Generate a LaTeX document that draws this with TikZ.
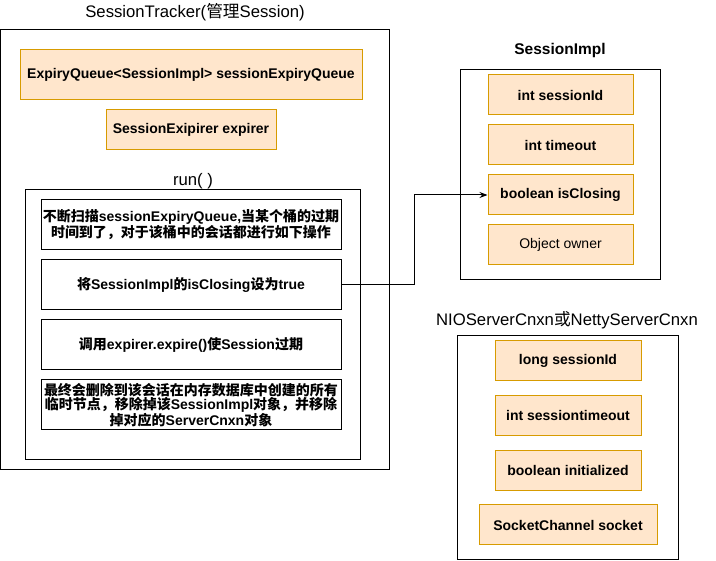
\documentclass[tikz,border=0pt]{standalone}
\usepackage{fontspec}
\setmainfont{Liberation Sans}
\newfontfamily\cjk{Noto Sans CJK SC}
\usetikzlibrary{arrows.meta}
\definecolor{ofill}{HTML}{FFE6CC}
\definecolor{odraw}{HTML}{D79B00}
\newcommand\zh[1]{{\cjk #1}}
\begin{document}
\begin{tikzpicture}[x=1pt,y=-1pt,
  field/.style={draw=odraw, fill=ofill, line width=1pt, inner sep=0pt, align=center, font=\bfseries\fontsize{14}{16}\selectfont},
  plain/.style={draw=odraw, fill=ofill, line width=1pt, inner sep=0pt, align=center, font=\fontsize{14}{16}\selectfont},
  frame/.style={draw=black, line width=1pt, inner sep=0pt},
  step box/.style={draw=black, line width=1pt, inner sep=0pt, align=center, font=\bfseries\fontsize{14}{14.5}\selectfont},
  title/.style={font=\fontsize{16.7}{18}\selectfont, inner sep=0pt},
  conn/.style={draw=black, line width=1pt, -{Stealth[length=8pt,width=6pt]}}]
\useasboundingbox (0,0) rectangle (716,561);
% SessionTracker
\node[frame, minimum width=389pt, minimum height=440pt] (tracker) at (195,250) {};
\node[title] (trackerT) at (195,12) {SessionTracker(\zh{管理}Session)};
\node[field, minimum width=342pt, minimum height=50pt] (eq) at (191,75) {ExpiryQueue<SessionImpl> sessionExpiryQueue};
\node[field, minimum width=170pt, minimum height=40pt] (exp) at (191,130) {SessionExipirer expirer};
\node[title] (runT) at (193,181) {run( )};
\node[frame, minimum width=335pt, minimum height=270pt] (run) at (192.5,325) {};
\node[step box, minimum width=300pt, minimum height=50pt] (b1) at (191,225) {\zh{不断扫描}sessionExpiryQueue,\zh{当某个桶的过期}\\\zh{时间到了，对于该桶中的会话都进行如下操作}};
\node[step box, minimum width=300pt, minimum height=50pt] (b2) at (191,285) {\zh{将}SessionImpl\zh{的}isClosing\zh{设为}true};
\node[step box, minimum width=300pt, minimum height=50pt] (b3) at (191,345) {\zh{调用}expirer.expire()\zh{使}Session\zh{过期}};
\node[step box, minimum width=300pt, minimum height=50pt] (b4) at (191,405) {\zh{最终会删除到该会话在内存数据库中创建的所有}\\\zh{临时节点，移除掉该}SessionImpl\zh{对象，并移除}\\\zh{掉对应的}ServerCnxn\zh{对象}};
% SessionImpl
\node[title, font=\bfseries\fontsize{15.5}{18}\selectfont] (implT) at (560,50) {SessionImpl};
\node[frame, minimum width=200pt, minimum height=210pt] (impl) at (560,175) {};
\node[field, minimum width=145pt, minimum height=40pt] (f1) at (560.5,95) {int sessionId};
\node[field, minimum width=145pt, minimum height=40pt] (f2) at (560.5,145) {int timeout};
\node[field, minimum width=145pt, minimum height=40pt] (f3) at (560.5,195) {boolean isClosing};
\node[plain, minimum width=145pt, minimum height=40pt] (f4) at (560.5,245) {Object owner};
% NIOServerCnxn
\node[title] (nioT) at (567,320) {NIOServerCnxn\zh{或}NettyServerCnxn};
\node[frame, minimum width=221pt, minimum height=224pt] (nio) at (567.5,447.5) {};
\node[field, minimum width=146pt, minimum height=40pt] (g1) at (568,360.5) {long sessionId};
\node[field, minimum width=146pt, minimum height=40pt] (g2) at (568,415.5) {int sessiontimeout};
\node[field, minimum width=146pt, minimum height=40pt] (g3) at (568,470.5) {boolean initialized};
\node[field, minimum width=178pt, minimum height=40pt] (g4) at (568,525) {SocketChannel socket};
% connector
\coordinate (bend) at (414,285);
\draw[conn] (b2.east) -- (bend) |- (f3.west);
\end{tikzpicture}
\end{document}
